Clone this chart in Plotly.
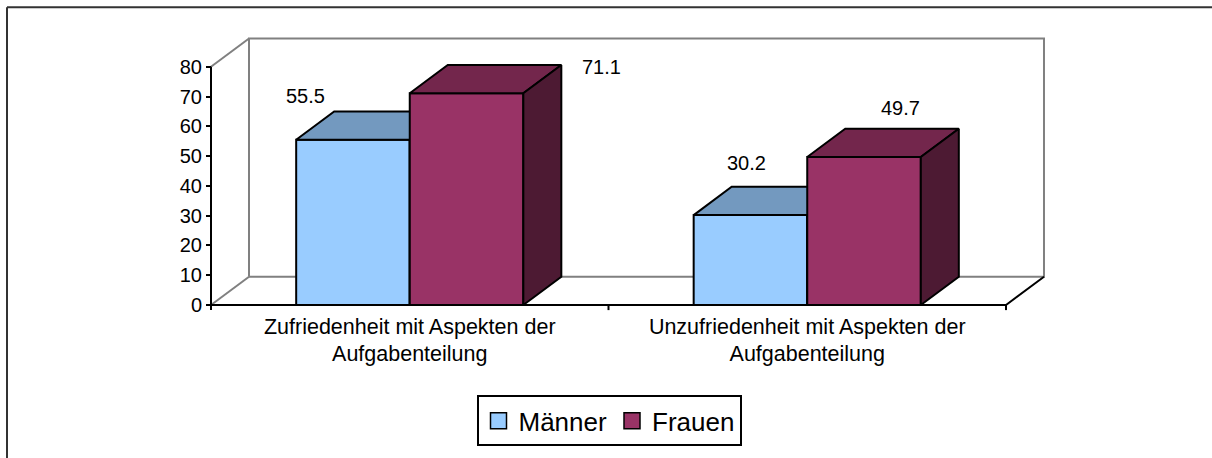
import plotly.graph_objects as go

# data
CATEGORIES = [
    "Zufriedenheit mit Aspekten der<br>Aufgabenteilung",
    "Unzufriedenheit mit Aspekten der<br>Aufgabenteilung",
]
SERIES = ["Männer", "Frauen"]
MAENNER = [55.5, 30.2]
FRAUEN = [71.1, 49.7]
Y_TICKS = [0, 10, 20, 30, 40, 50, 60, 70, 80]
VALUES = {"Männer": MAENNER, "Frauen": FRAUEN}

# colours of the three visible faces of each box
FRONT = {"Männer": "#99CCFF", "Frauen": "#993366"}
TOP = {"Männer": "#7399BF", "Frauen": "#73264C"}
SIDE = {"Männer": "#4D6680", "Frauen": "#4D1A33"}
WALL = "#808080"

# page / plot geometry (px)
W, H = 1212, 458
L, R, T, B = 150, 150, 30, 145
X_RANGE = [-0.15346, 2.1409]
Y_RANGE = [-2, 92.333]
Y_MAX = 80

# fake 3d depth, in data units
DX, DY = 0.0956, 9.5
BAR_W = 1 / 3.5          # excel default gap width 150 %
GAP = 1.5 * BAR_W

# label nudges (px) for the value labels, as placed in the original
LABEL_SHIFT = {"Männer": [(-47.5, 44), (-3.5, 52)], "Frauen": [(134.5, 26), (36.5, 49)]}


def px_x(px):
    return (px - L) / (W - L - R)


def px_y(py):
    return (H - B - py) / (H - T - B)


def poly(xs, ys, fill, color="black", width=2):
    return go.Scatter(
        x=xs + [xs[0]], y=ys + [ys[0]],
        mode="lines", fill="toself" if fill else None, fillcolor=fill,
        line=dict(color=color, width=width),
        hoverinfo="skip", showlegend=False,
    )


def seg(xs, ys, color, width=2):
    return go.Scatter(x=xs, y=ys, mode="lines", line=dict(color=color, width=width),
                      hoverinfo="skip", showlegend=False)


fig = go.Figure()

# back wall + left wall + floor (grey)
fig.add_trace(poly([DX, DX, 2 + DX, 2 + DX], [DY, Y_MAX + DY, Y_MAX + DY, DY], None, WALL))
fig.add_trace(seg([0, DX], [Y_MAX, Y_MAX + DY], WALL))
fig.add_trace(seg([0, DX], [0, DY], WALL))

# boxes
annotations = []
for i, cat in enumerate(CATEGORIES):
    x0 = i + GAP / 2
    for j, s in enumerate(SERIES):
        v = VALUES[s][i]
        a = x0 + j * BAR_W
        b = a + BAR_W
        fig.add_trace(poly([a, b, b, a], [0, 0, v, v], FRONT[s]))
        fig.add_trace(poly([a, b, b + DX, a + DX], [v, v, v + DY, v + DY], TOP[s]))
        fig.add_trace(poly([b, b + DX, b + DX, b], [0, DY, v + DY, v], SIDE[s]))
        sx, sy = LABEL_SHIFT[s][i]
        annotations.append(dict(
            x=(a + b) / 2, y=v, xref="x", yref="y", text=f"{v:.1f}",
            showarrow=False, xshift=sx, yshift=sy,
            font=dict(size=20, color="black"),
        ))

# front floor edge, right floor edge, y axis, x ticks
fig.add_trace(seg([0, 2, 2 + DX], [0, 0, DY], "black"))
fig.add_trace(seg([0, 0], [0, Y_MAX], "black"))
fig.add_trace(seg([0, 0, None, 1, 1, None, 2, 2], [0, -1.7, None, 0, -1.7, None, 0, -1.7], "black"))

# legend entries
for s in SERIES:
    fig.add_trace(go.Scatter(
        x=[None], y=[None], mode="markers", name=s,
        marker=dict(symbol="square", size=16, color=FRONT[s], line=dict(color="black", width=1.5)),
    ))

# outer chart border (only left and top edges are in frame)
shapes = [
    dict(type="line", xref="paper", yref="paper", x0=px_x(7), x1=px_x(1230), y0=px_y(7), y1=px_y(7),
         line=dict(color="#333333", width=2)),
    dict(type="line", xref="paper", yref="paper", x0=px_x(7), x1=px_x(7), y0=px_y(7), y1=px_y(470),
         line=dict(color="#333333", width=2)),
]

fig.update_layout(
    width=W, height=H,
    margin=dict(l=L, r=R, t=T, b=B, pad=0),
    plot_bgcolor="white", paper_bgcolor="white",
    font=dict(family="Liberation Sans, Arial", color="black", size=20),
    xaxis=dict(range=X_RANGE, tickvals=[0.5, 1.5], ticktext=CATEGORIES, ticks="",
               showgrid=False, zeroline=False, showline=False, tickfont=dict(size=21.5)),
    yaxis=dict(range=Y_RANGE, anchor="free", position=px_x(211), tickvals=Y_TICKS,
               ticks="outside", ticklen=5, tickwidth=2, tickcolor="black",
               showgrid=False, zeroline=False, showline=False, tickfont=dict(size=20)),
    legend=dict(orientation="h", x=px_x(609), xanchor="center", y=px_y(398), yanchor="top",
                bordercolor="black", borderwidth=2, font=dict(size=26), itemwidth=30),
    annotations=annotations,
    shapes=shapes,
    showlegend=True,
)

# drop the browser's default 8px body margin so the figure sits at 0,0
fig.write_html("out.html", config={"displayModeBar": False},
               post_script="document.body.style.margin='0';")
